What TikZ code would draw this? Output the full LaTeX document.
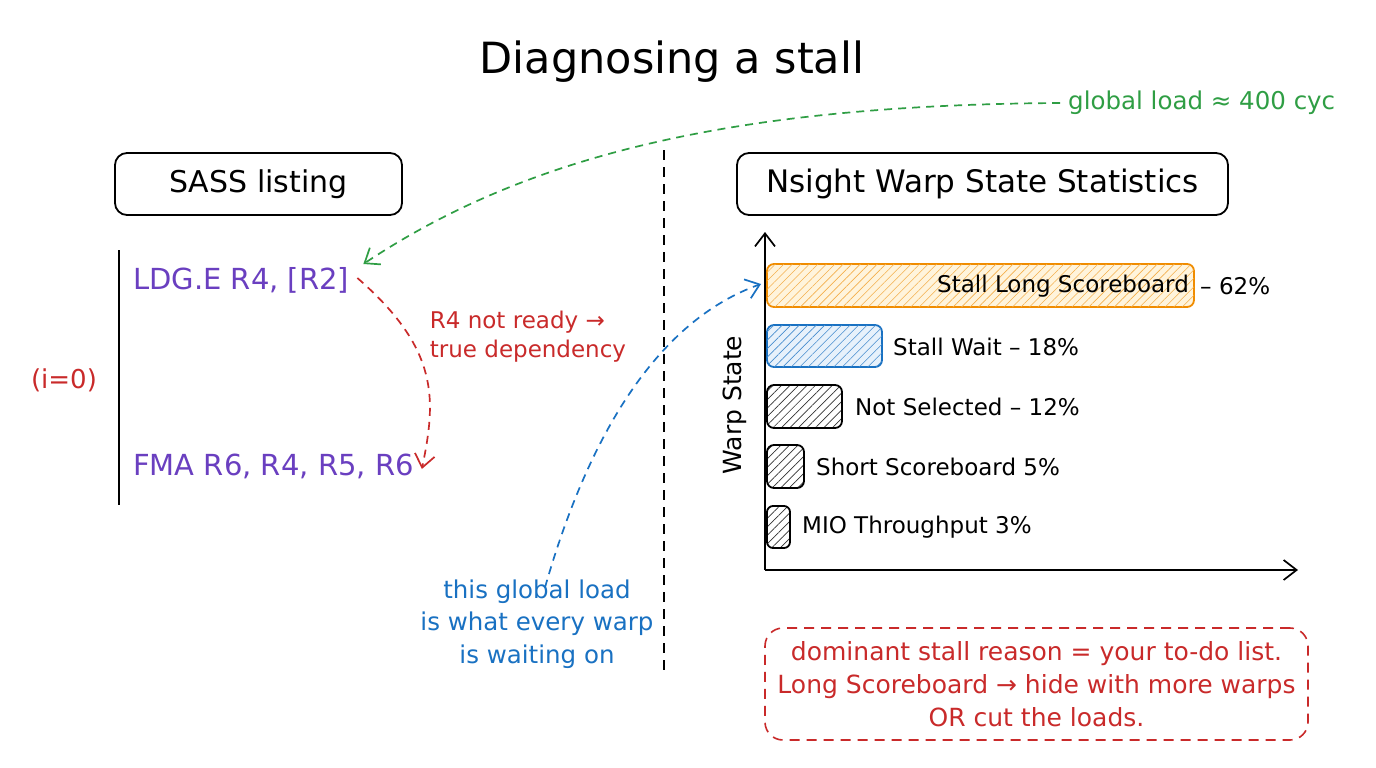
\documentclass[tikz,border=0pt]{standalone}
\usepackage{fontspec}
\setmainfont{DejaVu Sans}
\usetikzlibrary{arrows.meta,patterns.meta}
\definecolor{cpurple}{HTML}{6A3FC0}
\definecolor{cred}{HTML}{C92A2A}
\definecolor{cgreen}{HTML}{2F9E44}
\definecolor{cblue}{HTML}{1971C2}
\definecolor{corange}{HTML}{F08C00}
\definecolor{cofill}{HTML}{FFF4DC}
\definecolor{cbfill}{HTML}{E7F1FB}
\begin{document}
\begin{tikzpicture}[x=1pt,y=-1pt,
  hdr/.style={draw,line width=1.8pt,rounded corners=12pt,inner sep=0pt},
  fs/.style={font=\fontsize{#1}{#1}\selectfont},
  barb/.style={-{Straight Barb[length=13pt,width=20pt,line width=1.7pt]}},
  conn/.style={dashed,dash pattern=on 8pt off 6pt,line width=1.7pt,barb},
  bar/.style={rounded corners=7pt,line width=1.8pt},
  lbl/.style={anchor=west,fs=23,inner sep=0pt}]
\useasboundingbox (0,0) rectangle (1376,768);
\fill[white] (0,0) rectangle (1376,768);
% title
\node[fs=43] (title) at (672,62) {Diagnosing a stall};
% headers
\node[hdr,minimum width=287pt,minimum height=62pt,fs=30] (sass) at (258.5,184) {SASS listing};
\node[hdr,minimum width=491pt,minimum height=62pt,fs=31] (nsight) at (982.5,184) {Nsight Warp State Statistics};
% divider
\coordinate (dtop) at (664,150);
\coordinate (dbot) at (664,675);
\draw[dashed,dash pattern=on 10pt off 7pt,line width=1.8pt] (dtop) -- (dbot);
% listing bar
\coordinate (ltop) at (119,250);
\coordinate (lbot) at (119,505);
\draw[line width=2.2pt] (ltop) -- (lbot);
\node[fs=26,text=cred] (iz) at (64,380) {(i=0)};
\node[fs=29,text=cpurple,anchor=west,inner sep=0pt] (ldg) at (133,280) {LDG.E R4, [R2]};
\node[fs=29,text=cpurple,anchor=west,inner sep=0pt] (fma) at (133,466) {FMA R6, R4, R5, R6};
\node[fs=23,text=cred,align=left,inner sep=0pt] (dep) at (528,337) {R4 not ready →\\[6pt]true dependency};
% axes
\coordinate (orig) at (765,570);
\coordinate (ytop) at (765,232);
\coordinate (xend) at (1298,570);
\draw[line width=1.8pt,barb] (orig) -- (ytop);
\draw[line width=1.8pt,barb] (orig) -- (xend);
\node[fs=25,rotate=90] (ws) at (735,405) {Warp State};
% bars
\draw[bar,draw=corange,fill=cofill] (767,264) rectangle (1194,307);
\path[bar,pattern={Lines[angle=45,distance=6pt,line width=0.6pt]},pattern color=corange!70] (767,264) rectangle (1194,307);
\node[fs=23,anchor=east,inner sep=0pt] (b1in) at (1189,286) {Stall Long Scoreboard};
\node[lbl] (b1) at (1200,286) {– 62\%};
\draw[bar,draw=cblue,fill=cbfill] (767,325) rectangle (882,367);
\path[bar,pattern={Lines[angle=45,distance=6pt,line width=0.6pt]},pattern color=cblue!80] (767,325) rectangle (882,367);
\node[lbl] (b2) at (893,347) {Stall Wait – 18\%};
\draw[bar,pattern={Lines[angle=45,distance=6pt,line width=0.7pt]},pattern color=black!80] (767,385) rectangle (842,428);
\node[lbl] (b3) at (855,407) {Not Selected – 12\%};
\draw[bar,pattern={Lines[angle=45,distance=6pt,line width=0.7pt]},pattern color=black!80] (767,445) rectangle (804,488);
\node[lbl] (b4) at (816,467) {Short Scoreboard 5\%};
\draw[bar,rounded corners=6pt,pattern={Lines[angle=45,distance=6pt,line width=0.7pt]},pattern color=black!80] (767,506) rectangle (790,548);
\node[lbl] (b5) at (802,527) {MIO Throughput 3\%};
% note
\node[draw=cred,dashed,dash pattern=on 10pt off 7pt,line width=1.6pt,rounded corners=18pt,minimum width=543pt,minimum height=112pt,text=cred,fs=25,align=center,inner sep=0pt] (note) at (1036.5,684) {dominant stall reason = your to-do list.\\[8pt]Long Scoreboard → hide with more warps\\[8pt]OR cut the loads.};
% blue text
\node[fs=24.5,text=cblue,align=center,inner sep=0pt] (btxt) at (537,624) {this global load\\[8pt]is what every warp\\[8pt]is waiting on};
% green label
\node[fs=24.5,text=cgreen,anchor=west,inner sep=0pt] (gl) at (1068,103) {global load ≈ 400 cyc};
% connectors
\draw[conn,cgreen] ([xshift=-8pt]gl.west) .. controls (720,105) and (520,160) .. ([xshift=14pt,yshift=16pt]ldg.east);
\draw[conn,cred] ([xshift=8pt,yshift=2pt]ldg.east) .. controls (440,350) and (436,400) .. ([xshift=8pt,yshift=-3pt]fma.east);
\draw[conn,cblue] ([xshift=8pt,yshift=-8pt]btxt.north) .. controls (590,430) and (660,320) .. (761,284);
\end{tikzpicture}
\end{document}
